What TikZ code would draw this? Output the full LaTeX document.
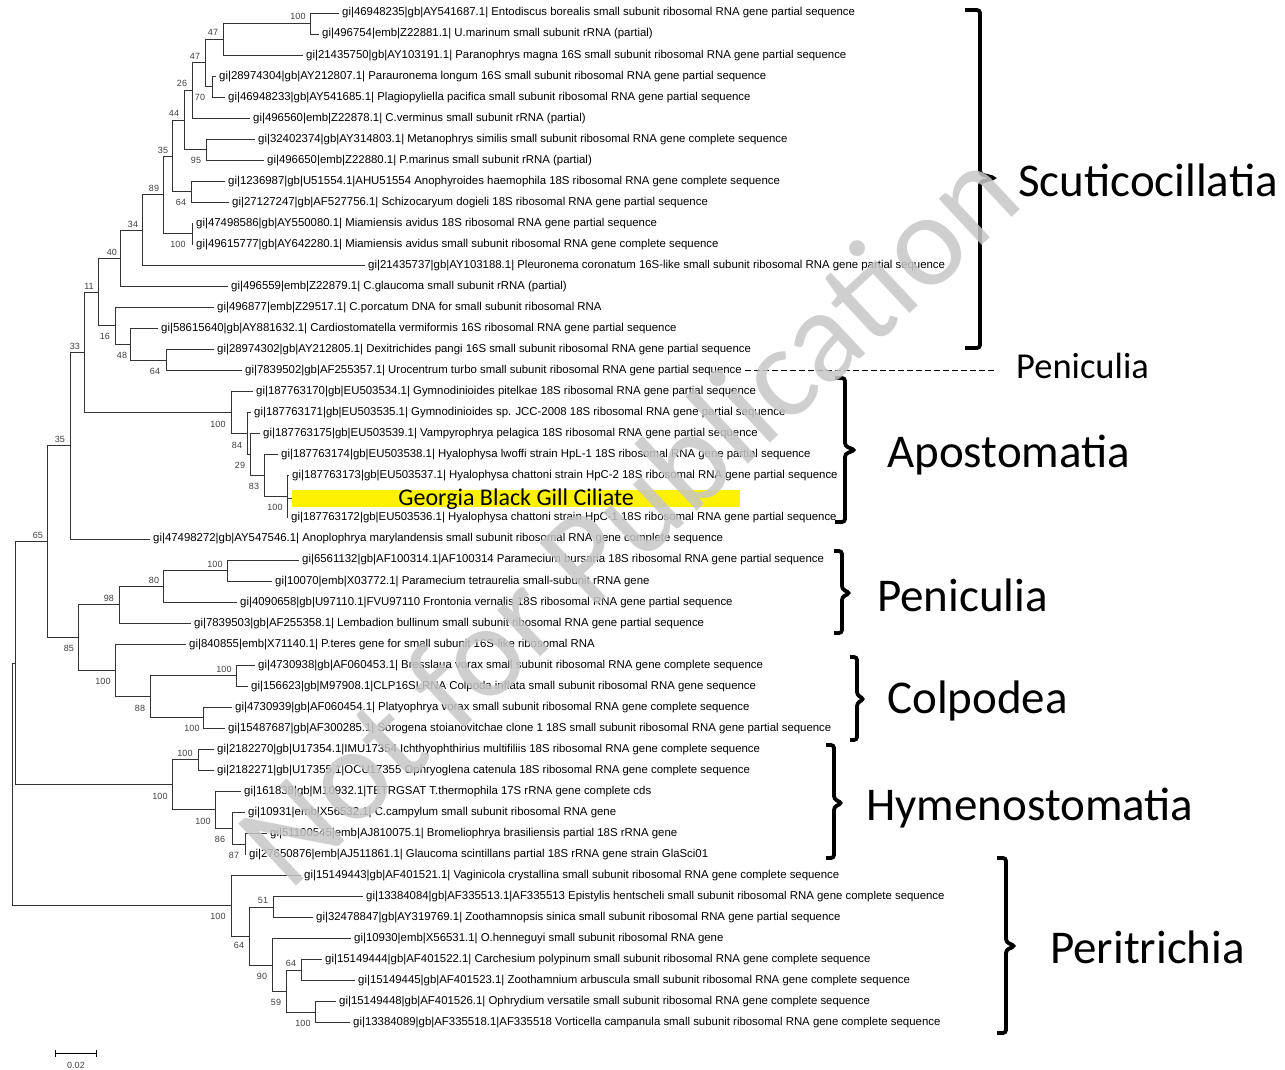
\documentclass[tikz,border=0pt]{standalone}
\usepackage{fontspec}
\setmainfont{Liberation Sans}
\newfontfamily\calfont{Carlito}
\usetikzlibrary{arrows.meta}

\begin{document}
\begin{tikzpicture}[x=1pt,y=-1pt,
  branch/.style={line width=1pt,draw=black!80},
  leaf/.style={anchor=west,inner xsep=3pt,inner ysep=0pt,font=\fontsize{11.4}{13}\selectfont},
  boot/.style={inner sep=0pt,text=black!75,font=\fontsize{9}{10}\selectfont},
  bracket/.style={line width=3.8pt,rounded corners=3pt},
  clade/.style={anchor=base west,inner sep=0pt,font=\calfont\fontsize{47}{50}\selectfont}]
\useasboundingbox (0,0) rectangle (1285,1069);
%leaves
\foreach \nm/\tip/\row/\txt in {
  entod/339/0/gi|46948235|gb|AY541687.1| Entodiscus borealis small subunit ribosomal RNA gene partial sequence,
  umar/319/1/gi|496754|emb|Z22881.1| U.marinum small subunit rRNA (partial),
  paran/303/2/gi|21435750|gb|AY103191.1| Paranophrys magna 16S small subunit ribosomal RNA gene partial sequence,
  parau/216/3/gi|28974304|gb|AY212807.1| Parauronema longum 16S small subunit ribosomal RNA gene partial sequence,
  plagio/225/4/gi|46948233|gb|AY541685.1| Plagiopyliella pacifica small subunit ribosomal RNA gene partial sequence,
  cverm/250/5/gi|496560|emb|Z22878.1| C.verminus small subunit rRNA (partial),
  metan/255/6/gi|32402374|gb|AY314803.1| Metanophrys similis small subunit ribosomal RNA gene complete sequence,
  pmar/264/7/gi|496650|emb|Z22880.1| P.marinus small subunit rRNA (partial),
  anoph/225/8/gi|1236987|gb|U51554.1|AHU51554 Anophyroides haemophila 18S ribosomal RNA gene complete sequence,
  schizo/229/9/gi|27127247|gb|AF527756.1| Schizocaryum dogieli 18S ribosomal RNA gene partial sequence,
  miamA/193/10/gi|47498586|gb|AY550080.1| Miamiensis avidus 18S ribosomal RNA gene partial sequence,
  miamB/193/11/gi|49615777|gb|AY642280.1| Miamiensis avidus small subunit ribosomal RNA gene complete sequence,
  pleur/365/12/gi|21435737|gb|AY103188.1| Pleuronema coronatum 16S-like small subunit ribosomal RNA gene partial sequence,
  cglau/228/13/gi|496559|emb|Z22879.1| C.glaucoma small subunit rRNA (partial),
  cporc/214/14/gi|496877|emb|Z29517.1| C.porcatum DNA for small subunit ribosomal RNA,
  cardio/158/15/gi|58615640|gb|AY881632.1| Cardiostomatella vermiformis 16S ribosomal RNA gene partial sequence,
  dexit/214/16/gi|28974302|gb|AY212805.1| Dexitrichides pangi 16S small subunit ribosomal RNA gene partial sequence,
  uroc/242/17/gi|7839502|gb|AF255357.1| Urocentrum turbo small subunit ribosomal RNA gene partial sequence,
  gympit/253/18/gi|187763170|gb|EU503534.1| Gymnodinioides pitelkae 18S ribosomal RNA gene partial sequence,
  gymsp/251/19/gi|187763171|gb|EU503535.1| Gymnodinioides sp. JCC-2008 18S ribosomal RNA gene partial sequence,
  vampy/260/20/gi|187763175|gb|EU503539.1| Vampyrophrya pelagica 18S ribosomal RNA gene partial sequence,
  hlwof/278/21/gi|187763174|gb|EU503538.1| Hyalophysa lwoffi strain HpL-1 18S ribosomal RNA gene partial sequence,
  hchatB/289/22/gi|187763173|gb|EU503537.1| Hyalophysa chattoni strain HpC-2 18S ribosomal RNA gene partial sequence,
  hchatA/288/24/gi|187763172|gb|EU503536.1| Hyalophysa chattoni strain HpC-1 18S ribosomal RNA gene partial sequence,
  anopl/150/25/gi|47498272|gb|AY547546.1| Anoplophrya marylandensis small subunit ribosomal RNA gene complete sequence,
  pbur/299/26/gi|6561132|gb|AF100314.1|AF100314 Paramecium bursaria 18S ribosomal RNA gene partial sequence,
  ptet/272/27/gi|10070|emb|X03772.1| Paramecium tetraurelia small-subunit rRNA gene,
  front/237/28/gi|4090658|gb|U97110.1|FVU97110 Frontonia vernalis 18S ribosomal RNA gene partial sequence,
  lemb/191/29/gi|7839503|gb|AF255358.1| Lembadion bullinum small subunit ribosomal RNA gene partial sequence,
  pter/186/30/gi|840855|emb|X71140.1| P.teres gene for small subunit 16S-like ribosomal RNA,
  bress/255/31/gi|4730938|gb|AF060453.1| Bresslaua vorax small subunit ribosomal RNA gene complete sequence,
  colp/248/32/gi|156623|gb|M97908.1|CLP16SLRNA Colpoda inflata small subunit ribosomal RNA gene sequence,
  platy/232/33/gi|4730939|gb|AF060454.1| Platyophrya vorax small subunit ribosomal RNA gene complete sequence,
  soro/225/34/gi|15487687|gb|AF300285.1| Sorogena stoianovitchae clone 1 18S small subunit ribosomal RNA gene partial sequence,
  ichth/214/35/gi|2182270|gb|U17354.1|IMU17354 Ichthyophthirius multifiliis 18S ribosomal RNA gene complete sequence,
  ophry/214/36/gi|2182271|gb|U17355.1|OCU17355 Ophryoglena catenula 18S ribosomal RNA gene complete sequence,
  tther/241/37/gi|161838|gb|M10932.1|TETRGSAT T.thermophila 17S rRNA gene complete cds,
  ccamp/245/38/gi|10931|emb|X56532.1| C.campylum small subunit ribosomal RNA gene,
  bromel/267/39/gi|51100545|emb|AJ810075.1| Bromeliophrya brasiliensis partial 18S rRNA gene,
  glsci/246/40/gi|27650876|emb|AJ511861.1| Glaucoma scintillans partial 18S rRNA gene strain GlaSci01,
  vagin/301/41/gi|15149443|gb|AF401521.1| Vaginicola crystallina small subunit ribosomal RNA gene complete sequence,
  epist/363/42/gi|13384084|gb|AF335513.1|AF335513 Epistylis hentscheli small subunit ribosomal RNA gene complete sequence,
  zoops/313/43/gi|32478847|gb|AY319769.1| Zoothamnopsis sinica small subunit ribosomal RNA gene partial sequence,
  ohenn/351/44/gi|10930|emb|X56531.1| O.henneguyi small subunit ribosomal RNA gene,
  carch/322/45/gi|15149444|gb|AF401522.1| Carchesium polypinum small subunit ribosomal RNA gene complete sequence,
  zooth/355/46/gi|15149445|gb|AF401523.1| Zoothamnium arbuscula small subunit ribosomal RNA gene complete sequence,
  ophrd/336/47/gi|15149448|gb|AF401526.1| Ophrydium versatile small subunit ribosomal RNA gene complete sequence,
  vort/350/48/gi|13384089|gb|AF335518.1|AF335518 Vorticella campanula small subunit ribosomal RNA gene complete sequence}{
    \node[leaf] (\nm) at (\tip,{13+21.04*\row}) {\txt};
};
\node[anchor=west,fill=yellow,minimum width=448pt,minimum height=17pt,inner sep=0pt,
  text height=13pt,text depth=0pt,font=\calfont\fontsize{24}{26}\selectfont]
  (gbgc) at (292,498.5) {Georgia Black Gill Ciliate};
%internal nodes
\foreach \nm/\px/\py in {nA/310/23.52, nB/223/39.30, nC/212/86.64, nD/205/62.97,
  nE/192/90.59, nF/206/149.76, nG/184/120.17, nH/191/191.84, nI/172/156.01,
  nJ/192/233.92, nK/163/194.96, nL/142/230.22, nM/120/258.37, nQ/166/360.16,
  nP/130/344.38, nO/115/325.97, nN/98/292.17, nV/287/496.92, nU/264/475.88,
  nT/250/454.84, nS/247/433.80, nR/231/412.76, nW/84/352.47, nX/70/445.73,
  nAA/227/570.56, nAB/163/586.34, nAC/119/604.75, nAF/236/675.76, nAG/203/717.84,
  nAH/150/696.80, nAE/115/670.50, nAD/78/637.63, nY/47/541.68, nAI/198/759.92,
  nAL/245/844.08, nAK/232/828.30, nAJ/215/809.89, nAM/172/784.91, nZ/15/663.30,
  nAO/273/907.20, nAQ/301/970.32, nAR/315/1012.40, nAS/286/991.36, nAP/272/965.06,
  nAT/249/936.13, nAN/231/905.89, root/12/784.60}{
    \coordinate (\nm) at (\px,\py);
};
%branches
\foreach \p/\c in {nA/entod, nA/umar, nB/nA, nB/paran, nC/parau, nC/plagio,
  nD/nB, nD/nC, nE/nD, nE/cverm, nF/metan, nF/pmar, nG/nE, nG/nF,
  nH/anoph, nH/schizo, nI/nG, nI/nH, nJ/miamA, nJ/miamB, nK/nI, nK/nJ,
  nL/nK, nL/pleur, nM/nL, nM/cglau, nQ/dexit, nQ/uroc, nP/cardio, nP/nQ,
  nO/cporc, nO/nP, nN/nM, nN/nO, nV/hchatB, nV/gbgc, nV/hchatA, nU/hlwof,
  nU/nV, nT/vampy, nT/nU, nS/gymsp, nS/nT, nR/gympit, nR/nS, nW/nN, nW/nR,
  nX/nW, nX/anopl, nAA/pbur, nAA/ptet, nAB/nAA, nAB/front, nAC/nAB, nAC/lemb,
  nAF/bress, nAF/colp, nAG/platy, nAG/soro, nAH/nAF, nAH/nAG, nAE/pter, nAE/nAH,
  nAD/nAC, nAD/nAE, nY/nX, nY/nAD, nAI/ichth, nAI/ophry, nAL/bromel, nAL/glsci,
  nAK/ccamp, nAK/nAL, nAJ/tther, nAJ/nAK, nAM/nAI, nAM/nAJ, nZ/nY, nZ/nAM,
  nAO/epist, nAO/zoops, nAQ/carch, nAQ/zooth, nAR/ophrd, nAR/vort, nAS/nAQ,
  nAS/nAR, nAP/ohenn, nAP/nAS, nAT/nAO, nAT/nAP, nAN/vagin, nAN/nAT,
  root/nZ, root/nAN}{
    \draw[branch] (\p) |- (\c);
};
%bootstrap values
\foreach \bx/\by/\bv [count=\i] in {298/16/100, 213/32/47, 195/56/47, 200/97/70,
  182/83/26, 174/113/44, 196/160/95, 163/150/35, 181/202/64, 154/188/89,
  178/244/100, 133/224/34, 112/252/40, 89/286/11, 105/336/16, 75/346/33,
  122/355/48, 155/371/64, 218/424/100, 237/445/84, 240/465/29, 254/486/83,
  275/507/100, 60/439/35, 38/535/65, 215/564/100, 154/580/80, 109/598/98,
  69/648/85, 103/681/100, 224/669/100, 140/708/88, 192/728/100, 185/753/100,
  160/796/100, 203/821/100, 220/839/86, 234/855/87, 218/916/100, 263/900/51,
  239/945/64, 262/976/90, 291/963/64, 276/1002/59, 303/1023/100}{
    \node[boot] (bs\i) at (\bx,\by) {\bv};
};
%scale bar
\coordinate (sbL) at (55,1053);
\coordinate (sbR) at (97,1053);
\draw[line width=1pt,{Bar[width=7pt]}-{Bar[width=7pt]}] (sbL) -- (sbR);
\node[boot] (sbtext) at (76,1065) {0.02};
%clade brackets
\foreach \bx/\btop/\bbot/\bmid/\bw in {980/10/348/178/15, 845/378/522/450/10,
  842/551/633/593/8, 857/657/740/699/7, 834/745/858/803/8, 1006/858/1033/946/9}{
    \draw[bracket] ({\bx-\bw},\btop) -- (\bx,\btop) -- (\bx,{\bmid-4})
      -- ({\bx+\bw},\bmid) -- (\bx,{\bmid+4}) -- (\bx,\bbot) -- ({\bx-\bw},\bbot);
};
\node[clade] (scut) at (1018,196) {Scuticocillatia};
\node[clade,font=\calfont\fontsize{36.5}{39}\selectfont] (penA) at (1016,378) {Peniculia};
\node[clade] (apos) at (887,467) {Apostomatia};
\node[clade] (penB) at (877,611) {Peniculia};
\node[clade] (colpo) at (887,713) {Colpodea};
\node[clade] (hymen) at (866,820) {Hymenostomatia};
\node[clade] (perit) at (1050,963) {Peritrichia};
\draw[line width=1pt,dash pattern=on 6pt off 3pt,shorten >=22pt] (uroc.east) -- (uroc.east -| penA.west);
%watermark
\node[rotate=43,text=black!22,opacity=0.85,inner sep=0pt,
  font=\calfont\fontsize{132}{140}\selectfont] (wm) at (627,515) {Not for Publication};
\end{tikzpicture}
\end{document}
